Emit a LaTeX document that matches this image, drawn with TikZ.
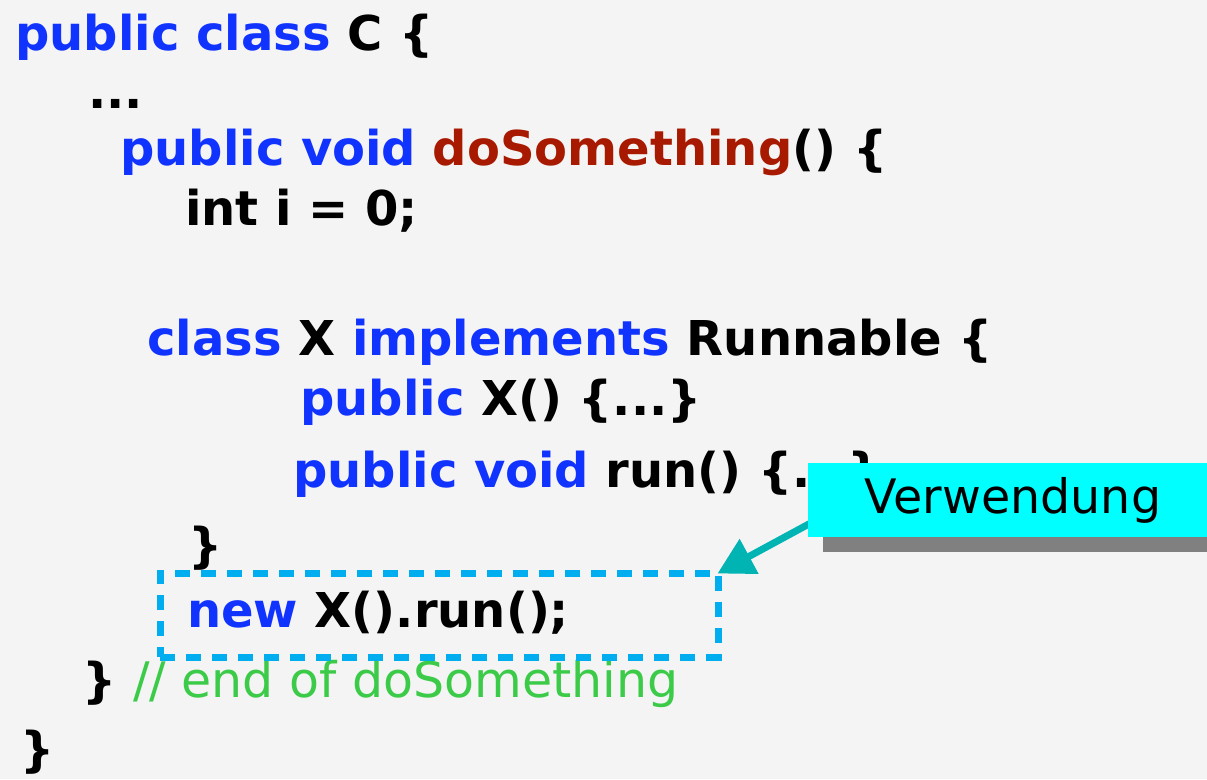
\documentclass[tikz,border=0pt]{standalone}
\usepackage{fontspec}
\setmainfont{DejaVu Sans}
\usetikzlibrary{shadows,calc,arrows.meta}
\definecolor{bgcol}{HTML}{F4F4F4}
\definecolor{kwblue}{HTML}{1133FF}
\definecolor{mred}{HTML}{A81A00}
\definecolor{cgreen}{HTML}{3CCB48}
\definecolor{dashblue}{HTML}{00AEEF}
\definecolor{arrowteal}{HTML}{00B4B4}
\definecolor{boxcyan}{HTML}{00FFFF}
\newcommand{\kw}[1]{\textcolor{kwblue}{#1}}
\begin{document}
\begin{tikzpicture}[x=1pt,y=-1pt,
		code/.style={anchor=base west,inner sep=0pt,font=\fontsize{48}{56}\selectfont\bfseries},
		usebox/.style={draw=dashblue,line width=7pt,dash pattern=on 15pt off 11pt,minimum width=558pt,minimum height=84pt,inner sep=0pt},
		callout/.style={fill=boxcyan,minimum width=410pt,minimum height=74pt,inner sep=0pt,font=\fontsize{47.5}{54}\selectfont,
			drop shadow={shadow xshift=15pt,shadow yshift=-15pt,fill=black!50,opacity=1}},
		usearrow/.style={draw=arrowteal,line width=7pt,-{Triangle[length=36pt,width=38pt]}}]
		\useasboundingbox (0,0) rectangle (1207,779);
		\clip (0,0) rectangle (1207,779);
		\fill[bgcol] (0,0) rectangle (1207,779);
		% Quelltext
		\node[code] (l1) at (15,50) {\kw{public class} C \{};
		\node[code] (l2) at (88,108) {...};
		\node[code] (l3) at (120,165) {\kw{public void} \textcolor{mred}{doSomething}() \{};
		\node[code] (l4) at (185,225) {int i = 0;};
		\node[code] (l5) at (147,355) {\kw{class} X \kw{implements} Runnable \{};
		\node[code] (l6) at (300,415) {\kw{public} X() \{...\}};
		\node[code] (l7) at (293,487) {\kw{public void} run() \{...\}};
		\node[code] (l8) at (188,562) {\}};
		\node[code] (l9) at (187,627) {\kw{new} X().run();};
		\node[code] (l10) at (82,697) {\} \textcolor{cgreen}{\mdseries\fontsize{49}{56}\selectfont // end of doSomething}};
		\node[code] (l11) at (20,766) {\}};
		% Verwendung
		\node[usebox] (use) at (439,615) {};
		\draw[usearrow] ($(use.north east)+(92,-48)$) -- ($(use.north east)+(-4,4)$);
		\node[callout] (verw) at (1013,500) {Verwendung};
\end{tikzpicture}
\end{document}
